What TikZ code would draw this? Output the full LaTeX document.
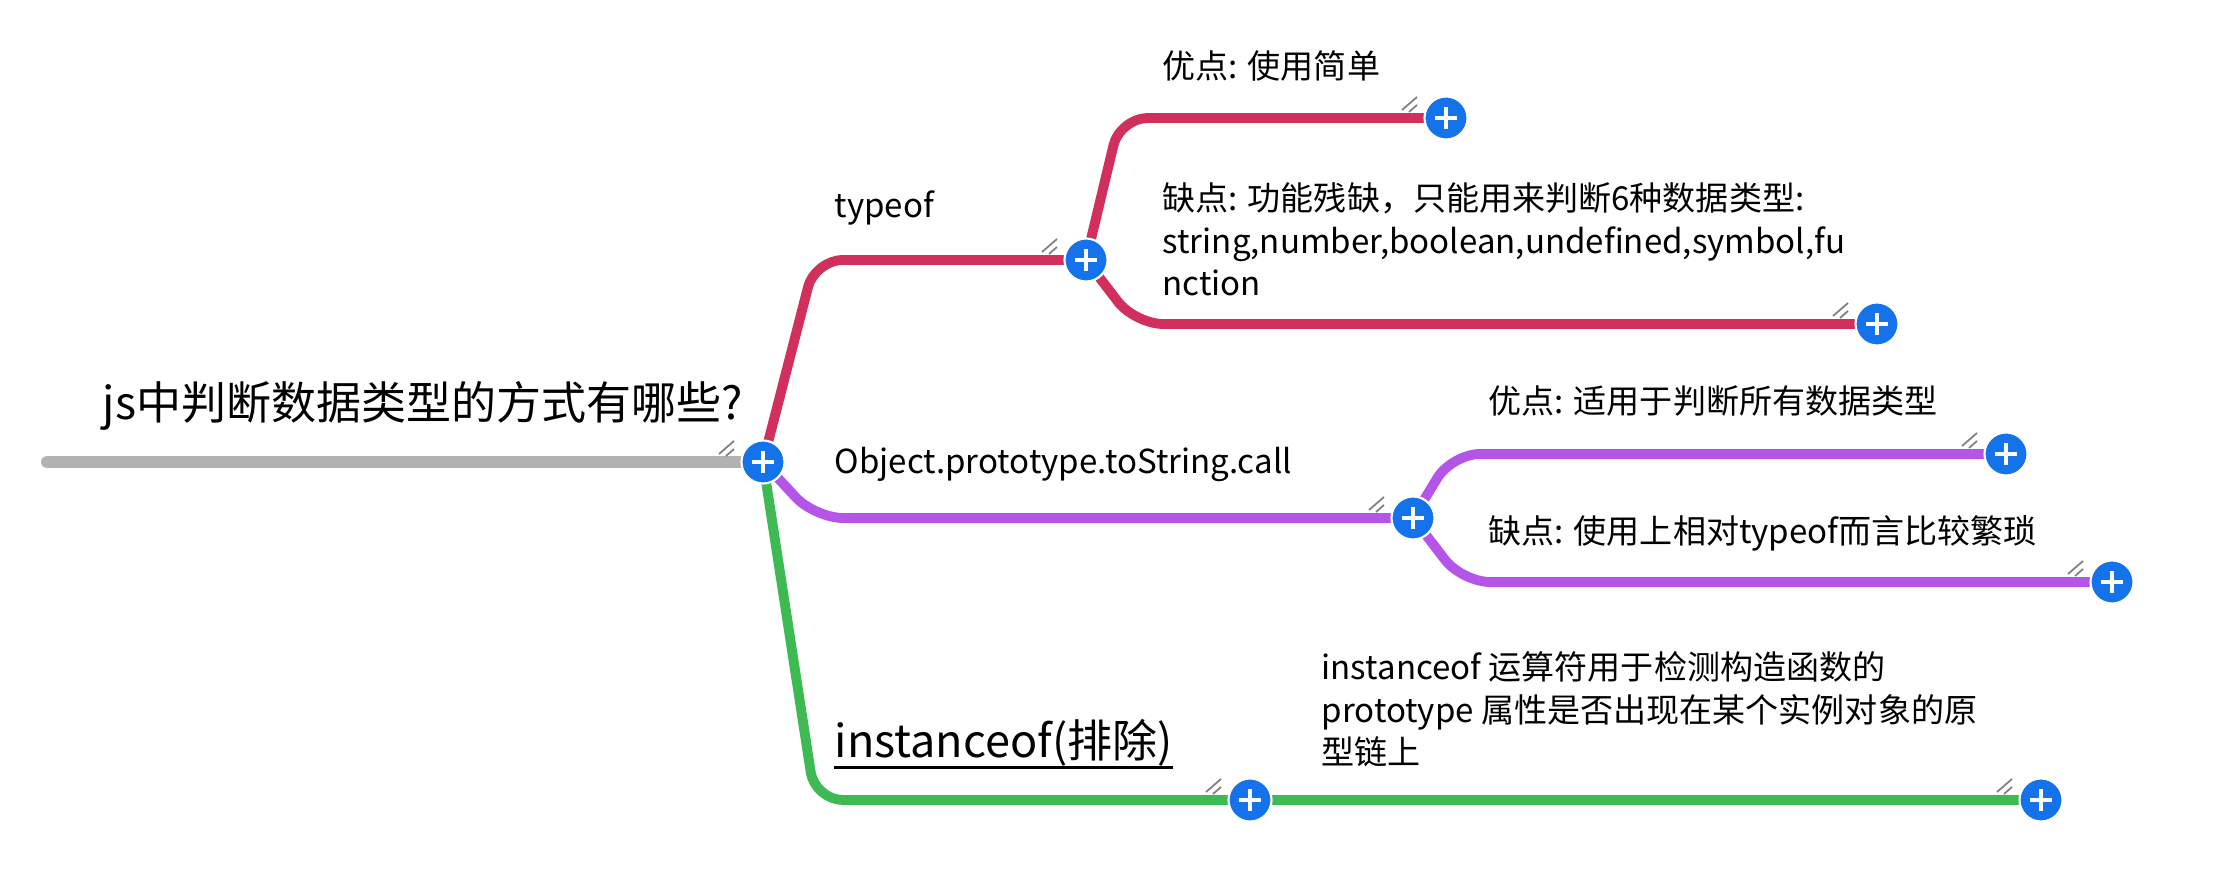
\documentclass[tikz,border=0pt]{standalone}
\usepackage{fontspec}
\setmainfont{Noto Sans CJK SC}
\usetikzlibrary{positioning}
\usetikzlibrary{backgrounds}
\definecolor{mblue}{rgb}{0.08, 0.45, 0.92}
\definecolor{mred}{rgb}{0.82, 0.19, 0.36}
\definecolor{mpurple}{rgb}{0.71, 0.33, 0.91}
\definecolor{mgreen}{rgb}{0.24, 0.73, 0.32}
\definecolor{mgray}{rgb}{0.70, 0.70, 0.70}
\tikzset{plusbtn/.style = {circle, fill = mblue, draw = white, line width = 0.6pt,
    minimum size = 0.43cm, inner sep = 0,
    path picture = {\draw [white, line width = 1.4pt]
      (path picture bounding box.center) ++(-11, 0) -- ++(22, 0)
      (path picture bounding box.center) ++(0, -11) -- ++(0, 22);}}}
\tikzset{branch/.style = {line width = 2.8pt, rounded corners = 8pt}}
\tikzset{hatch/.style = {gray, line width = 0.5pt}}
\tikzset{leaftext/.style = {anchor = base west, inner sep = 0, align = left,
    font = \fontsize{9.4}{12.2}\selectfont}}
\tikzset{titletext/.style = {anchor = base west, inner sep = 0,
    font = \fontsize{12.8}{16}\selectfont}}

\begin{document}
\begin{tikzpicture}[x = 0.01cm, y = -0.01cm]
    \useasboundingbox (0, 0) rectangle (2227, 874);

    % buttons
    \node [plusbtn] (root) at (763, 462) {};
    \node [plusbtn] (typeof) at (1086, 260) {};
    \node [plusbtn] (tyA) at (1446, 118) {};
    \node [plusbtn] (tyB) at (1877, 324) {};
    \node [plusbtn] (obj) at (1413, 518) {};
    \node [plusbtn] (objA) at (2006, 454) {};
    \node [plusbtn] (objB) at (2112, 582) {};
    \node [plusbtn] (inst) at (1250, 800) {};
    \node [plusbtn] (instEnd) at (2041, 800) {};
    \coordinate (start) at (47, 462);

    % labels (multi-line ones sit on their last line)
    \node [titletext] (rootlabel) at (102, 420) {js中判断数据类型的方式有哪些?};
    \node [leaftext] (typeoflabel) at (834, 218) {typeof};
    \node [leaftext] (tyAlabel) at (1162, 79) {优点: 使用简单};
    \node [leaftext] (tyBlabel) at (1162, 296)
      {缺点: 功能残缺，只能用来判断6种数据类型:\\string,number,boolean,undefined,symbol,fu\\nction};
    \node [leaftext] (objlabel) at (834, 474) {Object.prototype.toString.call};
    \node [leaftext] (objAlabel) at (1488, 414) {优点: 适用于判断所有数据类型};
    \node [leaftext] (objBlabel) at (1488, 544) {缺点: 使用上相对typeof而言比较繁琐};
    \node [titletext] (instlabel) at (834, 758) {instanceof(排除)};
    \draw [line width = 0.9pt] ([yshift = -2.6pt] instlabel.base west) -- ([yshift = -2.6pt] instlabel.base east);
    \node [leaftext] (instEndlabel) at (1321, 765)
      {instanceof 运算符用于检测构造函数的\\prototype 属性是否出现在某个实例对象的原\\型链上};

    \begin{scope}[on background layer]
      \draw [mgray, line width = 3.4pt, line cap = round] (start) -- (root.center);
      \draw [branch, mred] (root.center) -- (815, 260) -- (typeof.center);
      \draw [branch, mred] (typeof.center) -- (1120, 118) -- (tyA.center);
      \draw [branch, mred] (typeof.center) -- (1135, 324) -- (tyB.center);
      \draw [branch, mpurple] (root.center) -- (815, 518) -- (obj.center);
      \draw [branch, mpurple] (obj.center) -- (1452, 454) -- (objA.center);
      \draw [branch, mpurple] (obj.center) -- (1462, 582) -- (objB.center);
      \draw [branch, mgreen] (root.center) -- (815, 800) -- (inst.center) -- (instEnd.center);
    \end{scope}

    \foreach \n in {root, typeof, tyA, tyB, obj, objA, objB, inst, instEnd}
      \draw [hatch] ([shift = {(-44, -8)}] \n.center) -- ++(15, -13)
                    ([shift = {(-37, -6)}] \n.center) -- ++(8, -7);
  \end{tikzpicture}
\end{document}
